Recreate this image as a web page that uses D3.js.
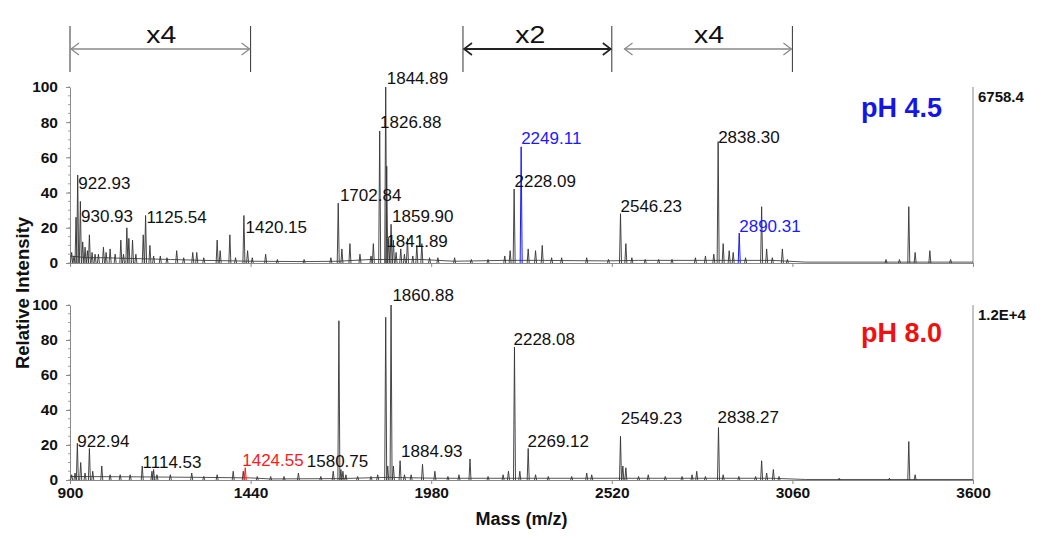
<!DOCTYPE html>
<html>
<head>
<meta charset="utf-8">
<script src="https://cdn.jsdelivr.net/npm/d3@7"></script>
<style>
  body { margin: 0; background: #fff; }
  text { font-family: "Liberation Sans", Arial, sans-serif; }
</style>
</head>
<body>
<div id="chart"></div>
<script>
// peaks: [m/z, relative intensity]
var topPeaks = [
  [905, 6], [912, 4], [918, 26], [923, 50], [931, 35], [938, 12], [945, 9], [952, 7], [958, 16], [966, 6],
  [975, 5], [985, 5], [1000, 9], [1008, 6], [1020, 8], [1035, 5], [1052, 13], [1060, 5], [1070, 20], [1076, 14],
  [1087, 13], [1097, 5], [1119, 16], [1126, 27], [1139, 10], [1150, 4], [1170, 4], [1190, 3], [1219, 7], [1240, 3],
  [1267, 6], [1279, 6], [1300, 3], [1340, 13], [1349, 7], [1378, 16], [1395, 3], [1420, 27], [1431, 7], [1445, 3],
  [1485, 5], [1520, 2], [1600, 2], [1680, 3], [1702, 34], [1713, 8], [1737, 11], [1767, 5], [1800, 4], [1807, 11],
  [1826, 75], [1844, 100], [1847, 55], [1853, 14], [1860, 22], [1867, 13], [1875, 6], [1889, 8], [1900, 5], [1909, 14],
  [1925, 4], [1937, 10], [1952, 11], [1975, 3], [2000, 3], [2050, 3], [2100, 2], [2150, 2], [2200, 4], [2216, 7],
  [2228, 42], [2270, 8], [2292, 7], [2312, 10], [2340, 3], [2370, 3], [2445, 3], [2510, 2], [2546, 28], [2562, 11],
  [2580, 3], [2620, 2], [2660, 2], [2700, 2], [2770, 3], [2800, 4], [2825, 5], [2838, 69], [2853, 11], [2871, 7],
  [2883, 6], [2920, 3], [2968, 32], [2983, 8], [3000, 3], [3030, 8], [3045, 2], [3340, 2], [3380, 2], [3408, 32],
  [3427, 6], [3471, 7], [3533, 2]
];
var topMarked = [[2249, 66], [2901, 17]];   // blue peaks
var topBase = [[900, 4], [950, 3], [1000, 3], [1100, 2.5], [1200, 2], [1300, 1.5], [1450, 1], [1600, 0.8], [1700, 1],
  [1800, 2], [1950, 2], [2050, 1], [2200, 1.5], [2300, 1.5], [2500, 1.2], [2600, 1.5], [2800, 1.5], [3000, 1.5],
  [3100, 0.5], [3600, 0.5]];

var botPeaks = [
  [905, 3], [915, 4], [922, 21], [932, 10], [945, 4], [958, 18], [968, 5], [995, 8], [1020, 3], [1050, 3],
  [1080, 3], [1116, 8], [1145, 5], [1150, 6], [1160, 3], [1200, 3], [1264, 4], [1300, 2], [1340, 3], [1388, 5],
  [1418, 5], [1460, 2], [1500, 2], [1540, 2], [1583, 4], [1650, 2], [1687, 5], [1704, 91], [1710, 6], [1716, 5],
  [1725, 3], [1760, 2], [1800, 2], [1820, 3], [1844, 93], [1850, 8], [1860, 100], [1867, 8], [1887, 11], [1900, 3],
  [1920, 3], [1954, 9], [1991, 5], [2030, 2], [2063, 3], [2096, 12], [2150, 2], [2195, 3], [2211, 5], [2229, 76],
  [2245, 5], [2270, 18], [2292, 3], [2330, 2], [2400, 2], [2445, 4], [2460, 3], [2546, 25], [2553, 8], [2562, 7],
  [2600, 2], [2629, 3], [2680, 2], [2730, 2], [2760, 3], [2774, 5], [2800, 2], [2839, 30], [2853, 3], [2900, 2],
  [2950, 2], [2968, 11], [2983, 4], [3003, 6], [3020, 2], [3200, 1], [3350, 1], [3408, 22], [3427, 3]
];
var botMarked = [[1424, 7]];   // red peak
var botBase = [[900, 2], [1100, 1.8], [1300, 1.5], [1440, 1.2], [1500, 0.6], [1700, 0.8], [1850, 1.5], [2000, 1],
  [2300, 1], [2520, 1], [2700, 1], [3000, 1], [3100, 0.3], [3600, 0.3]];

// peak labels: [text, m/z at left edge, intensity at baseline]
var topLabels = [
  ["922.93", 925, 41.9], ["930.93", 933, 23.5], ["1125.54", 1129, 22.9], ["1420.15", 1425, 16.9],
  ["1702.84", 1707, 35.2], ["1844.89", 1847, 101.7], ["1826.88", 1827, 76.5], ["1859.90", 1863, 23.1],
  ["1841.89", 1846, 9.3], ["2228.09", 2229, 43], ["2546.23", 2546, 29.2], ["2838.30", 2838, 68.4]
];
var topMarkedLabels = [["2249.11", 2249, 67.6], ["2890.31", 2901, 17.8]];
var botLabels = [
  ["922.94", 922, 19], ["1114.53", 1117, 6.7], ["1580.75", 1608, 7.3], ["1860.88", 1864, 102.3],
  ["1884.93", 1890, 13], ["2228.08", 2226, 77.1], ["2269.12", 2268, 19], ["2549.23", 2547, 31.8],
  ["2838.27", 2836, 32.7]
];
var botMarkedLabels = [["1424.55", 1415, 8.2]];

var massTicks = [900, 1440, 1980, 2520, 3060, 3600];
var intensityTicks = [0, 20, 40, 60, 80, 100];
var minorTicks = d3.range(0, 101, 5);

// zoom brackets above the spectra: [from, to, label, left bar]
var brackets = [[900, 1440, "x4", true], [2075, 2520, "x2", true], [2555, 3060, "x4", false]];

var width = 1050, height = 541;
var x = d3.scaleLinear().domain([900, 3600]).range([70, 973]);
var yTop = d3.scaleLinear().domain([0, 100]).range([263, 87]);
var yBot = d3.scaleLinear().domain([0, 100]).range([480, 305]);

var svg = d3.select("#chart").append("svg")
  .attr("width", width)
  .attr("height", height);

var axisColor = "#8a8a8a";

function drawPanel(y, peaks, marked, markColor, base, labels, markedLabels, showX, title, titleColor, scaleText) {
  var g = svg.append("g");

  // minor y ticks
  g.selectAll(".minor").data(minorTicks).enter().append("line")
    .attr("x1", x(900) - 2).attr("x2", x(900))
    .attr("y1", d => y(d)).attr("y2", d => y(d))
    .attr("stroke", axisColor).attr("stroke-width", 0.8);

  var yAxis = g.append("g")
    .attr("transform", `translate(${x(900)},0)`)
    .call(d3.axisLeft(y).tickValues(intensityTicks).tickSize(4).tickSizeOuter(0).tickPadding(8));
  yAxis.select(".domain").attr("stroke", axisColor);
  yAxis.selectAll(".tick line").attr("stroke", axisColor);
  yAxis.selectAll("text").attr("font-size", "15.5px").attr("font-weight", "bold")
    .attr("font-family", "Liberation Sans, Arial, sans-serif").attr("fill", "#111");

  var xAxis = g.append("g")
    .attr("transform", `translate(0,${y(0)})`)
    .call(d3.axisBottom(x).tickValues(massTicks).tickSize(4).tickSizeOuter(0).tickPadding(3)
      .tickFormat(showX ? d3.format("d") : ""));
  xAxis.select(".domain").attr("stroke", axisColor);
  xAxis.selectAll(".tick line").attr("stroke", axisColor);
  xAxis.selectAll("text").attr("font-size", "15.5px").attr("font-weight", "bold")
    .attr("font-family", "Liberation Sans, Arial, sans-serif").attr("fill", "#111");

  // right border
  g.append("line")
    .attr("x1", x(3600)).attr("x2", x(3600))
    .attr("y1", y(100)).attr("y2", y(0))
    .attr("stroke", axisColor);

  // baseline noise
  var line = d3.line().x(d => x(d[0])).y(d => y(d[1]));
  g.append("path").datum(base)
    .attr("d", line)
    .attr("fill", "none").attr("stroke", "#555").attr("stroke-width", 1);

  var spike = d => line([[d[0] - 3, 0], [d[0], d[1]], [d[0] + 3, 0]]);
  g.selectAll(".peak").data(peaks).enter().append("path")
    .attr("d", spike)
    .attr("fill", "none").attr("stroke", "#333").attr("stroke-width", 0.9);
  g.selectAll(".mark").data(marked).enter().append("path")
    .attr("d", spike)
    .attr("fill", "none").attr("stroke", markColor).attr("stroke-width", 1);

  g.selectAll(".lbl").data(labels).enter().append("text")
    .attr("x", d => x(d[1])).attr("y", d => y(d[2]))
    .attr("font-size", "17px").attr("fill", "#111")
    .text(d => d[0]);
  g.selectAll(".mlbl").data(markedLabels).enter().append("text")
    .attr("x", d => x(d[1])).attr("y", d => y(d[2]))
    .attr("font-size", "17px").attr("fill", markColor)
    .text(d => d[0]);

  g.append("text")
    .attr("x", 861).attr("y", y(100) + (y === yTop ? 30 : 37))
    .attr("font-size", "27px").attr("font-weight", "bold").attr("fill", titleColor)
    .text(title);

  g.append("text")
    .attr("x", 978).attr("y", y(100) + 15)
    .attr("font-size", "15px").attr("font-weight", "bold").attr("fill", "#111")
    .text(scaleText);
}

drawPanel(yTop, topPeaks, topMarked, "#1a1aff", topBase, topLabels, topMarkedLabels, false, "pH 4.5", "#1515e8", "6758.4");
drawPanel(yBot, botPeaks, botMarked, "#ff1a1a", botBase, botLabels, botMarkedLabels, true, "pH 8.0", "#f01010", "1.2E+4");

// axis titles
svg.append("text")
  .attr("x", (x(900) + x(3600)) / 2).attr("y", 525)
  .attr("text-anchor", "middle")
  .attr("font-size", "18px").attr("font-weight", "bold").attr("fill", "#111")
  .text("Mass (m/z)");

svg.append("text")
  .attr("transform", "translate(29,293) rotate(-90)")
  .attr("text-anchor", "middle")
  .attr("font-size", "18.5px").attr("font-weight", "bold").attr("fill", "#111")
  .text("Relative Intensity");

// zoom brackets
var ay = 49;
brackets.forEach(function (b) {
  var x0 = x(b[0]), x1 = x(b[1]);
  var dark = b[2] === "x2";
  var col = dark ? "#222" : "#888";
  var bg = svg.append("g");
  if (b[3]) {
    bg.append("line").attr("x1", x0).attr("x2", x0).attr("y1", 26).attr("y2", 72)
      .attr("stroke", "#333").attr("stroke-width", 1);
  }
  bg.append("line").attr("x1", x1).attr("x2", x1).attr("y1", 26).attr("y2", 72)
    .attr("stroke", "#333").attr("stroke-width", 1);
  bg.append("line").attr("x1", x0 + 1).attr("x2", x1 - 1).attr("y1", ay).attr("y2", ay)
    .attr("stroke", col).attr("stroke-width", dark ? 2 : 1.3);
  bg.append("path")
    .attr("d", `M${x0 + 9},${ay - 6}L${x0 + 1},${ay}L${x0 + 9},${ay + 6}`)
    .attr("fill", "none").attr("stroke", col).attr("stroke-width", dark ? 1.6 : 1.2);
  bg.append("path")
    .attr("d", `M${x1 - 9},${ay - 6}L${x1 - 1},${ay}L${x1 - 9},${ay + 6}`)
    .attr("fill", "none").attr("stroke", col).attr("stroke-width", dark ? 1.6 : 1.2);
  bg.append("text")
    .attr("x", dark ? (x0 + x1) / 2 - 7 : (x0 + x1) / 2 + 1).attr("y", 43)
    .attr("text-anchor", "middle")
    .attr("font-size", "24px").attr("fill", "#111")
    .attr("textLength", 30).attr("lengthAdjust", "spacingAndGlyphs")
    .text(b[2]);
});
</script>
</body>
</html>
